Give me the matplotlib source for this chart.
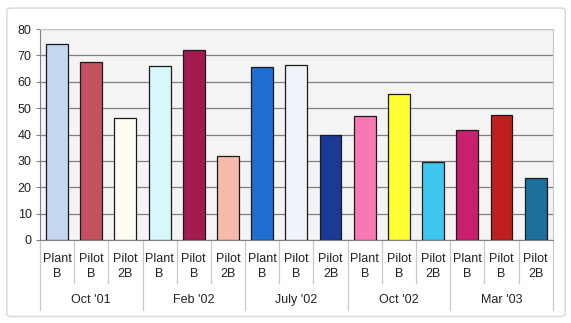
import matplotlib
matplotlib.use("Agg")
import matplotlib.pyplot as plt
from matplotlib.patches import FancyBboxPatch
from matplotlib.lines import Line2D

plt.rcParams['font.family'] = ['Liberation Sans', 'DejaVu Sans']

groups = ["Oct '01", "Feb '02", "July '02", "Oct '02", "Mar '03"]
sites = ["Plant\nB", "Pilot\nB", "Pilot\n2B"]
values = [74.5, 67.4, 46.2,
          65.9, 72.0, 31.8,
          65.5, 66.3, 39.8,
          47.0, 55.3, 29.5,
          41.7, 47.3, 23.5]
colors = ["#C5D6F0", "#C4525E", "#FFFDF2",
          "#D8F7FC", "#A11A50", "#F7B9A9",
          "#1F6FD2", "#EEF4FA", "#1B3A96",
          "#F878B6", "#FFFF33", "#3FC6EE",
          "#C8206E", "#BF1F1F", "#1E6E9E"]
yticks = [0, 10, 20, 30, 40, 50, 60, 70, 80]

fig = plt.figure(figsize=(5.71, 3.23), dpi=100)
fig.patch.set_facecolor("white")
# outer chart frame
fig.patches.append(FancyBboxPatch((0.012, 0.02), 0.978, 0.955,
                                  boxstyle="round,pad=0,rounding_size=0.008",
                                  transform=fig.transFigure, facecolor="none",
                                  edgecolor="#D8D8D8", linewidth=1.0))

ax = fig.add_axes([0.070, 0.257, 0.898, 0.653])
ax.set_facecolor("#F4F4F4")
n = len(values)
x = list(range(n))
ax.bar(x, values, width=0.64, color=colors, edgecolor="#1A1A1A", linewidth=0.9, zorder=3)
ax.set_xlim(-0.5, n - 0.5)
ax.set_ylim(0, 80)
ax.set_yticks(yticks)
ax.set_yticklabels([str(t) for t in yticks], fontsize=9, color="#222222")
ax.yaxis.grid(True, color="#808080", linewidth=0.9, zorder=1)
ax.tick_params(axis='y', length=3, color="#808080", pad=3)
ax.set_xticks([])
for s in ["top", "right"]:
    ax.spines[s].set_color("#C8C8C8")
ax.spines["left"].set_color("#808080")
ax.spines["bottom"].set_color("#808080")

# two-level category labels
tr = ax.get_xaxis_transform()
for i in range(n):
    ax.text(i, -0.125, sites[i % 3], transform=tr, ha="center", va="center",
            fontsize=9, color="#222222", linespacing=1.35)
for g, name in enumerate(groups):
    ax.text(3 * g + 1, -0.285, name, transform=tr, ha="center", va="center",
            fontsize=9, color="#222222")
for i in range(n + 1):
    xb = i - 0.5
    y1 = -0.33 if i % 3 == 0 else -0.205
    ax.add_line(Line2D([xb, xb], [0, y1], transform=tr, color="#C8C8C8",
                       linewidth=0.9, clip_on=False))

fig.savefig("out.png", dpi=100)
